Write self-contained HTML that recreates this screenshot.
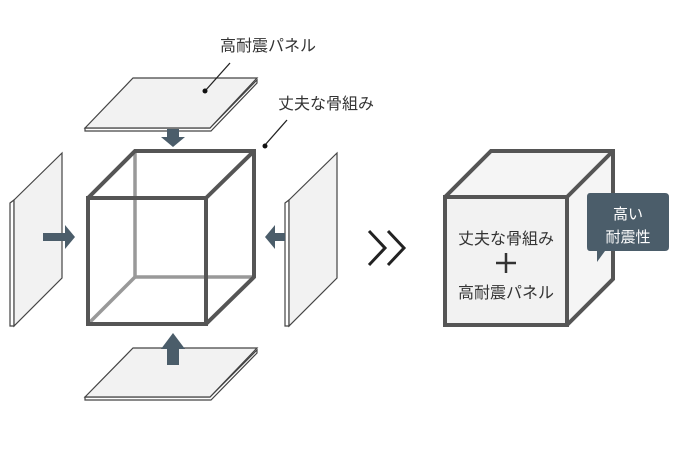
<!DOCTYPE html>
<html><head><meta charset="utf-8"><style>
html,body{margin:0;padding:0;background:#fff;}
svg{display:block;}
text{font-family:"Liberation Sans","Noto Sans CJK JP",sans-serif;}
</style></head><body>
<svg width="682" height="464" viewBox="0 0 682 464" xmlns="http://www.w3.org/2000/svg">
<polygon points="85,128 210,128 257,80 257,83 211,131 85,131" fill="#fff" stroke="#444" stroke-width="1.2"/>
<polygon points="85,128 133,78 257,78 210,128" fill="#f2f2f2" stroke="#444" stroke-width="1.2"/>
<polygon points="85,397 210,397 257,350 257,353 211,400 85,400" fill="#fff" stroke="#444" stroke-width="1.2"/>
<polygon points="85,397 133,348 257,348 210,397" fill="#f2f2f2" stroke="#444" stroke-width="1.2"/>
<polygon points="10,203 14,200 14,326 10,326" fill="#fff" stroke="#444" stroke-width="1.2"/>
<polygon points="14,200 62,153 62,278 14,326" fill="#f2f2f2" stroke="#444" stroke-width="1.2"/>
<polygon points="285,203 289,200 289,326 285,326" fill="#fff" stroke="#444" stroke-width="1.2"/>
<polygon points="289,200 337,153 337,278 289,326" fill="#f2f2f2" stroke="#444" stroke-width="1.2"/>
<g stroke="#999" stroke-width="3.5" fill="none">
<line x1="135" y1="150" x2="135" y2="277"/>
<line x1="135" y1="277" x2="254" y2="277"/>
<line x1="135" y1="277" x2="88" y2="324"/>
</g>
<g stroke="#555" stroke-width="4" fill="none">
<rect x="88" y="198" width="118" height="126"/>
<polyline points="88,198 135,151 254,151 254,277 206,324"/>
<line x1="206" y1="198" x2="254" y2="151"/>
</g>
<g fill="#4b5d6a">
<polygon points="167,129 179,129 179,137 185,137 173,147 161,137 167,137"/>
<polygon points="43,233 65,233 65,225 75,237 65,249 65,241 43,241"/>
<polygon points="285,233 275,233 275,225 265,237 275,249 275,241 285,241"/>
<polygon points="167,365 179,365 179,349 185,349 173,333 161,349 167,349"/>
</g>
<g stroke="#222" stroke-width="1.3">
<line x1="205" y1="91" x2="230" y2="63"/>
<line x1="265" y1="145" x2="287" y2="120"/>
</g>
<circle cx="205" cy="91" r="2.5" fill="#111"/>
<circle cx="265" cy="146" r="2.5" fill="#111"/>
<text x="220" y="51" font-size="16" fill="#333">高耐震パネル</text>
<text x="278" y="109" font-size="16" fill="#333">丈夫な骨組み</text>
<g stroke="#222" stroke-width="3" fill="none">
<polyline points="369,231 385,248 369,265"/>
<polyline points="388,231 404,248 388,265"/>
</g>
<polygon points="445,197 491,151 613,151 567,197" fill="#f5f5f5"/>
<polygon points="567,197 613,151 613,279 567,325" fill="#f5f5f5"/>
<rect x="445" y="197" width="122" height="128" fill="#f2f2f2"/>
<g stroke="#555" stroke-width="4" fill="none">
<rect x="445" y="197" width="122" height="128"/>
<polyline points="445,197 491,151 613,151 613,279 567,325"/>
<line x1="567" y1="197" x2="613" y2="151"/>
</g>
<text x="506" y="244" font-size="16" fill="#333" text-anchor="middle">丈夫な骨組み</text>
<g stroke="#333" stroke-width="2.5">
<line x1="496" y1="263" x2="516" y2="263"/>
<line x1="506" y1="253" x2="506" y2="273"/>
</g>
<text x="506" y="298" font-size="16" fill="#333" text-anchor="middle">高耐震パネル</text>
<path d="M590,193 H665 Q669,193 669,197 V247 Q669,251 665,251 H605 L597,262 V251 H590 Q587,251 587,247 V197 Q587,193 590,193 Z" fill="#4b5d6a"/>
<text x="628" y="219" font-size="15" fill="#fff" text-anchor="middle">高い</text>
<text x="628" y="242" font-size="15" fill="#fff" text-anchor="middle">耐震性</text>
</svg>
</body></html>
